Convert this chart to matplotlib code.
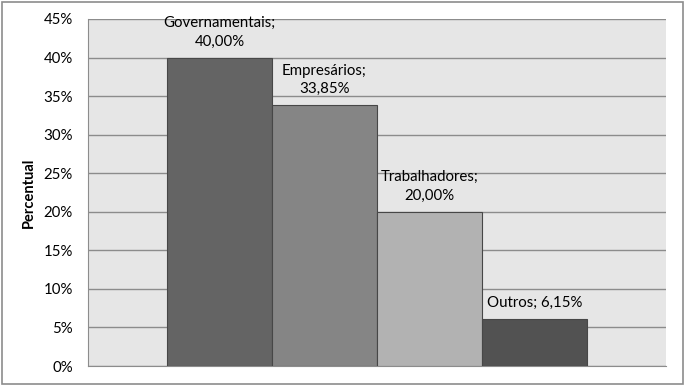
import numpy as np
import matplotlib.pyplot as plt
import matplotlib as mpl
from matplotlib.patches import Rectangle

plt.rcParams["font.family"] = ["Lato", "DejaVu Sans"]

categorias = ["Governamentais", "Empresários", "Trabalhadores", "Outros"]
valores = [40.00, 33.85, 20.00, 6.15]
cores = ["#646464", "#858585", "#b2b2b2", "#525252"]
rotulos = ["Governamentais;\n40,00%", "Empresários;\n33,85%", "Trabalhadores;\n20,00%", "Outros; 6,15%"]
yticks = [0, 5, 10, 15, 20, 25, 30, 35, 40, 45]

fig = plt.figure(figsize=(6.86, 3.86), dpi=100)
fig.patches.append(Rectangle((0.003, 0.005), 0.992, 0.99, transform=fig.transFigure,
                             fill=False, edgecolor="#8c8c8c", lw=1.2))
ax = fig.add_axes([0.1283, 0.0518, 0.8425, 0.899])
ax.set_facecolor("#e6e6e6")

x = np.arange(len(valores))
ax.bar(x, valores, width=1.0, color=cores, edgecolor="#474747", lw=0.8, zorder=3)

for xi, v, r in zip(x, valores, rotulos):
    ax.annotate(r, (xi, v), xytext=(0, 6.5), textcoords="offset points",
                ha="center", va="bottom", fontsize=10.8, linespacing=1.4, zorder=4)

ax.set_xlim(-1.252, 4.252)
ax.set_ylim(0, 45)
ax.set_yticks(yticks)
ax.set_yticklabels([f"{t}%" for t in yticks], fontsize=10.8)
ax.set_xticks([])
ax.yaxis.grid(True, color="#8c8c8c", lw=1.0, zorder=0)
ax.set_axisbelow(True)
ax.tick_params(axis="y", length=0, pad=11)
for side in ["top", "right"]:
    ax.spines[side].set_visible(False)
ax.spines["left"].set_color("#8c8c8c")
ax.spines["bottom"].set_color("#8c8c8c")
ax.set_ylabel("Percentual", fontsize=10.5, fontweight="bold", labelpad=5)

fig.savefig("out.png", dpi=100)
